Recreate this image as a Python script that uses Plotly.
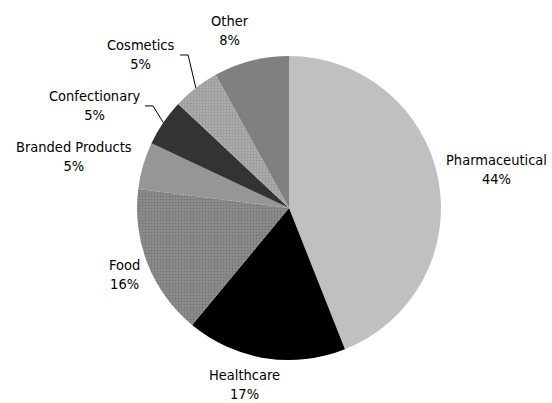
import math
import plotly.graph_objects as go

categories = ["Pharmaceutical", "Healthcare", "Food", "Branded Products", "Confectionary", "Cosmetics", "Other"]
values = [44, 17, 16, 5, 5, 5, 8]

# --- styling / layout configuration (not data) ---
colors = ["#c0c0c0", "#000000", "#8e8e8e", "#969696", "#333333", "#acacac", "#808080"]
pattern_shapes = ["", "", ".", "", "", "+", ""]
pattern_fg = ["#c0c0c0", "#000000", "#5a5a5a", "#969696", "#333333", "#858585", "#808080"]

# label placement: radial distance (px), angular nudge (deg), uses leader line
label_dist = [211.4, 182.4, 177.2, 220.6, 170.0, 183.3, 186.6]
label_nudge = [0.4, 5.0, -0.6, -2.7, 2.7, 4.4, -4.0]
label_leader = [False, False, False, False, True, True, False]

FONT = "DejaVu Sans Condensed, DejaVu Sans, sans-serif"
FSIZE = 14.5

W, H = 552, 403
cx, cy, r = 289, 208, 152  # pie centre / radius in figure pixels


def to_paper(px, py):
    return px / W, 1 - py / H


fig = go.Figure(go.Pie(
    labels=categories,
    values=values,
    sort=False,
    direction="clockwise",
    rotation=0,
    marker=dict(
        colors=colors,
        line=dict(width=0),
        pattern=dict(shape=pattern_shapes, fgcolor=pattern_fg, size=3, solidity=0.4, fillmode="overlay"),
    ),
    textinfo="none",
    showlegend=False,
    hoverinfo="skip",
    domain=dict(x=[(cx - r) / W, (cx + r) / W], y=[(H - cy - r) / H, (H - cy + r) / H]),
))

total = sum(values)
cum = 0
annotations = []
shapes = []
for i, (cat, v) in enumerate(zip(categories, values)):
    mid = (cum + v / 2) / total * 360.0
    cum += v
    pct = round(v / total * 100)
    text = f"{cat}<br>{pct}%"
    a = math.radians(mid + label_nudge[i])
    lx = cx + label_dist[i] * math.sin(a)
    ly = cy - label_dist[i] * math.cos(a)
    if label_leader[i]:
        am = math.radians(mid)
        ex = cx + r * math.sin(am)
        ey = cy - r * math.cos(am)
        hx = lx - 8
        p0 = to_paper(ex, ey); p1 = to_paper(lx, ly); p2 = to_paper(hx, ly)
        shapes.append(dict(type="path", xref="paper", yref="paper",
                           path=f"M {p0[0]} {p0[1]} L {p1[0]} {p1[1]} L {p2[0]} {p2[1]}",
                           line=dict(color="#000000", width=1)))
        ax, ay = to_paper(hx - 3, ly)
        annotations.append(dict(x=ax, y=ay, xref="paper", yref="paper", text=text,
                                showarrow=False, xanchor="right", yanchor="middle", align="center",
                                font=dict(family=FONT, size=FSIZE, color="#000000")))
    else:
        ax, ay = to_paper(lx, ly)
        annotations.append(dict(x=ax, y=ay, xref="paper", yref="paper", text=text,
                                showarrow=False, xanchor="center", yanchor="middle", align="center",
                                font=dict(family=FONT, size=FSIZE, color="#000000")))

fig.update_layout(
    width=W, height=H,
    margin=dict(l=0, r=0, t=0, b=0),
    paper_bgcolor="white",
    plot_bgcolor="white",
    annotations=annotations,
    shapes=shapes,
)

fig.write_html("out.html", config={"displayModeBar": False},
               post_script="document.body.style.margin='0';")
